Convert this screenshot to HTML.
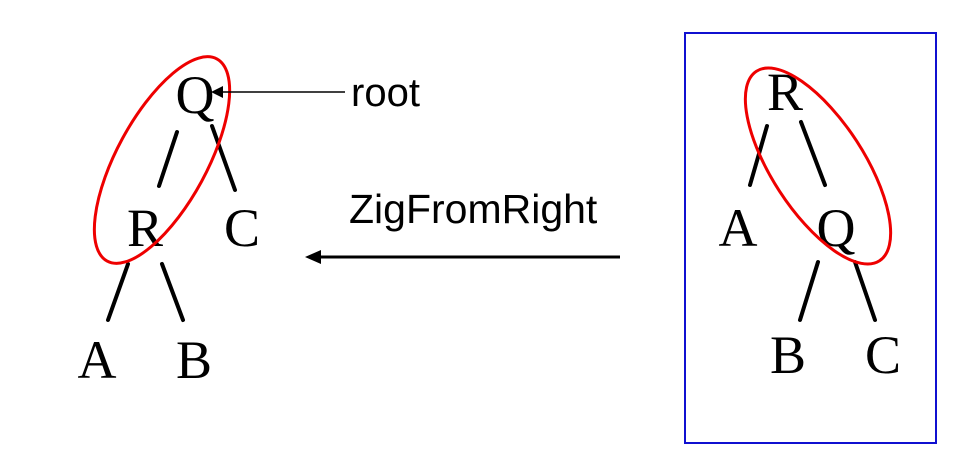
<!DOCTYPE html>
<html><head><meta charset="utf-8"><style>
html,body{margin:0;padding:0;background:#fff;}
svg{display:block;}
.l{font-family:"Liberation Serif",serif;font-size:54px;fill:#000;text-anchor:middle;}
.s{font-family:"Liberation Sans",sans-serif;fill:#000;}
</style></head><body>
<svg width="973" height="470" viewBox="0 0 973 470" xmlns="http://www.w3.org/2000/svg">
<!-- left tree -->
<text class="l" x="195" y="113">Q</text>
<text class="l" x="145" y="246">R</text>
<text class="l" x="242" y="246">C</text>
<text class="l" x="97" y="378">A</text>
<text class="l" x="194" y="378">B</text>
<g stroke="#000" stroke-width="4" stroke-linecap="round">
<line x1="177" y1="132" x2="159" y2="186"/>
<line x1="212" y1="126" x2="235" y2="190"/>
<line x1="128" y1="264" x2="108" y2="320"/>
<line x1="162" y1="264" x2="183" y2="320"/>
</g>
<ellipse cx="162" cy="160" rx="115" ry="45" transform="rotate(-61.5 162 160)" fill="none" stroke="#e00" stroke-width="3"/>
<line x1="345" y1="92" x2="220" y2="92" stroke="#000" stroke-width="1.5"/>
<polygon points="211,92 223,86 223,98" fill="#000"/>
<text class="s" x="351" y="106" style="font-size:40px">root</text>
<text class="s" x="349" y="223" style="font-size:41px">ZigFromRight</text>
<line x1="620" y1="257" x2="318" y2="257" stroke="#000" stroke-width="3"/>
<polygon points="305,257 321,250 321,264" fill="#000"/>
<!-- right -->
<rect x="685" y="33" width="251" height="410" fill="none" stroke="#1010d0" stroke-width="2"/>
<text class="l" x="785" y="110">R</text>
<text class="l" x="738" y="246">A</text>
<text class="l" x="836" y="246">Q</text>
<text class="l" x="788" y="373">B</text>
<text class="l" x="883" y="373">C</text>
<g stroke="#000" stroke-width="4" stroke-linecap="round">
<line x1="767" y1="126" x2="750" y2="185"/>
<line x1="801" y1="122" x2="825" y2="185"/>
<line x1="818" y1="262" x2="800" y2="320"/>
<line x1="855" y1="262" x2="875" y2="320"/>
</g>
<ellipse cx="818" cy="166" rx="113" ry="46" transform="rotate(57 818 166)" fill="none" stroke="#e00" stroke-width="3"/>
</svg>
</body></html>
